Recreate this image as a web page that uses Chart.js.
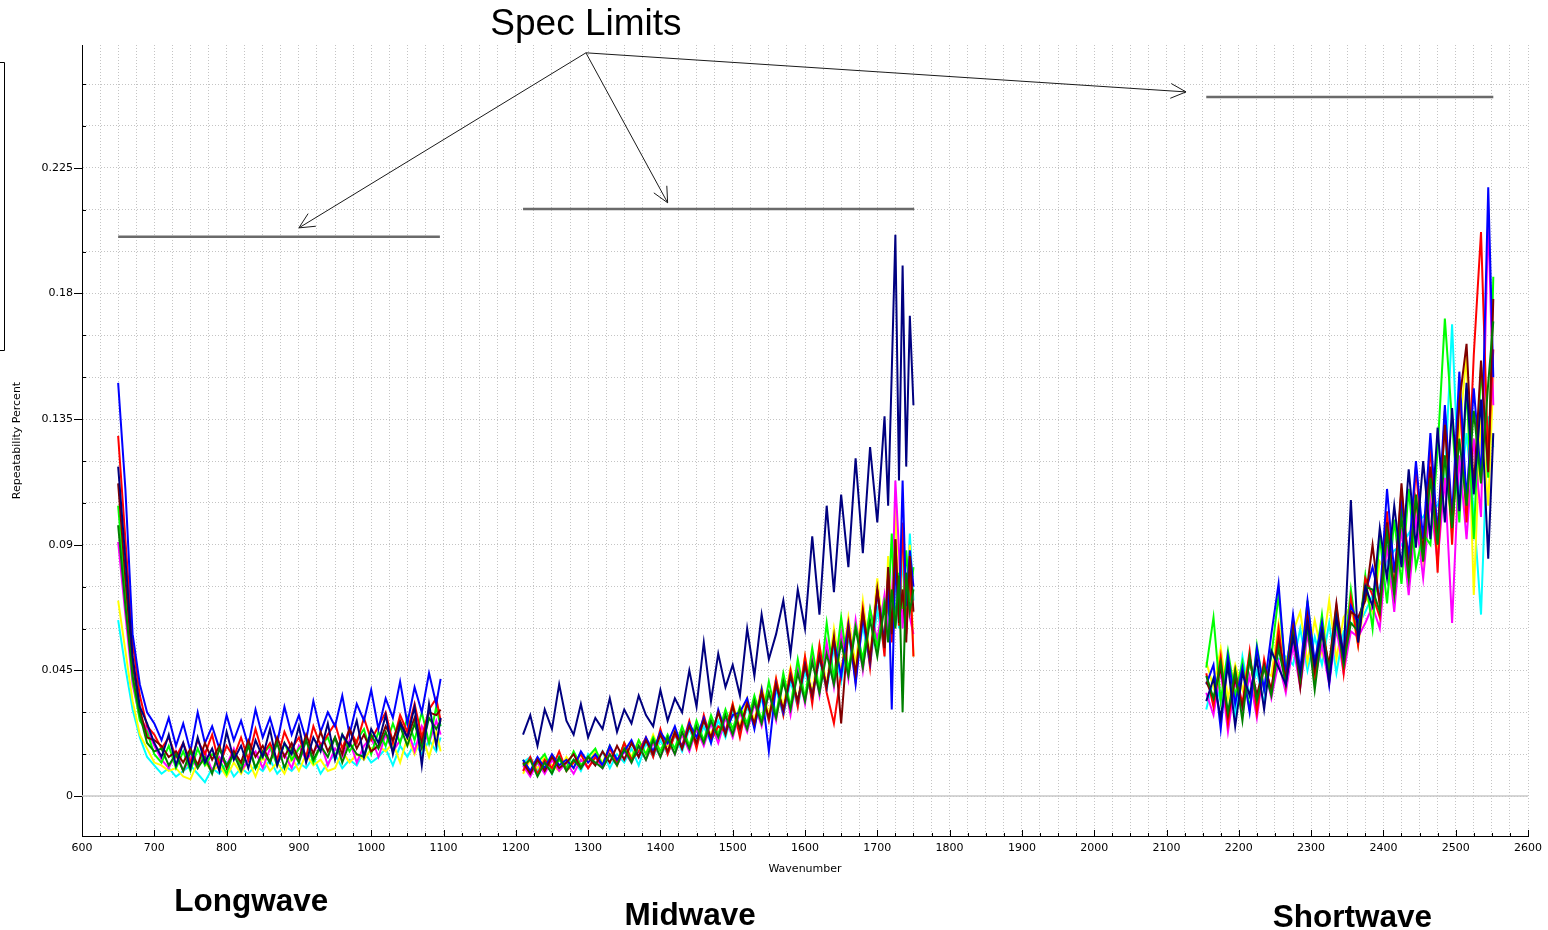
<!DOCTYPE html>
<html>
<head>
<meta charset="utf-8">
<script src="https://cdn.jsdelivr.net/npm/chart.js@4.4.1/dist/chart.umd.min.js"></script>
<style>
  body { margin: 0; background: #fff; }
  canvas { display: block; }
</style>
</head>
<body>
<canvas id="myChart" width="1548" height="930"></canvas>
<script>
// wavenumber grids of the three bands
const lwX = [650, 660, 670, 680, 690, 700, 710, 720, 730, 740, 750, 760, 770, 780, 790, 800, 810, 820, 830, 840, 850, 860, 870, 880, 890, 900, 910, 920, 930, 940, 950, 960, 970, 980, 990, 1000, 1010, 1020, 1030, 1040, 1050, 1060, 1070, 1080, 1090, 1096];
const mwX = [1210, 1220, 1230, 1240, 1250, 1260, 1270, 1280, 1290, 1300, 1310, 1320, 1330, 1340, 1350, 1360, 1370, 1380, 1390, 1400, 1410, 1420, 1430, 1440, 1450, 1460, 1470, 1480, 1490, 1500, 1510, 1520, 1530, 1540, 1550, 1560, 1570, 1580, 1590, 1600, 1610, 1620, 1630, 1640, 1650, 1660, 1670, 1680, 1690, 1700, 1710, 1715, 1720, 1725, 1730, 1735, 1740, 1745, 1750];
const swX = [2155, 2165, 2175, 2185, 2195, 2205, 2215, 2225, 2235, 2245, 2255, 2265, 2275, 2285, 2295, 2305, 2315, 2325, 2335, 2345, 2355, 2365, 2375, 2385, 2395, 2405, 2415, 2425, 2435, 2445, 2455, 2465, 2475, 2485, 2495, 2505, 2515, 2525, 2535, 2545, 2552];

// longwave
const lwNavy = [.118,.085,.050,.032,.026,.019,.014,.022,.011,.019,.010,.021,.012,.017,.009,.023,.013,.018,.010,.020,.014,.024,.011,.019,.015,.025,.012,.021,.016,.026,.013,.022,.018,.027,.014,.024,.019,.029,.015,.026,.021,.032,.011,.033,.018,.028];
const lwDarkGreen = [.097,.068,.043,.029,.019,.016,.017,.011,.015,.009,.016,.010,.014,.008,.017,.011,.015,.009,.018,.010,.016,.012,.019,.010,.017,.012,.020,.013,.018,.014,.021,.012,.019,.015,.014,.022,.017,.023,.016,.025,.018,.026,.017,.028,.024,.027];
const lwDarkRed = [.112,.078,.047,.031,.021,.020,.018,.014,.016,.012,.017,.011,.019,.013,.018,.010,.016,.012,.020,.014,.018,.012,.021,.014,.019,.013,.022,.015,.023,.016,.021,.015,.024,.017,.022,.016,.018,.025,.020,.027,.021,.028,.019,.030,.029,.031];
const lwBlue = [.148,.110,.058,.040,.030,.026,.020,.028,.018,.026,.016,.030,.019,.025,.017,.029,.020,.027,.018,.031,.021,.028,.019,.032,.022,.029,.020,.034,.023,.030,.025,.036,.022,.033,.027,.038,.024,.035,.028,.041,.026,.039,.030,.044,.033,.042];
const lwRed = [.129,.092,.055,.036,.025,.022,.017,.021,.014,.019,.012,.020,.015,.022,.011,.018,.014,.021,.013,.024,.015,.019,.013,.023,.017,.021,.014,.025,.018,.022,.026,.017,.024,.019,.028,.020,.025,.030,.019,.029,.023,.033,.021,.031,.035,.027];
const lwGreen = [.104,.072,.042,.027,.023,.015,.012,.018,.010,.016,.009,.017,.011,.015,.013,.008,.016,.011,.019,.010,.015,.018,.011,.019,.013,.017,.020,.012,.018,.021,.014,.022,.016,.020,.024,.015,.023,.018,.026,.019,.028,.020,.030,.019,.032,.025];
const lwMagenta = [.091,.065,.040,.028,.024,.018,.013,.010,.016,.009,.014,.010,.016,.009,.014,.011,.017,.009,.013,.016,.010,.017,.012,.015,.010,.018,.013,.016,.019,.011,.017,.014,.020,.012,.018,.021,.014,.022,.016,.020,.024,.016,.025,.019,.027,.022];
const lwYellow = [.070,.052,.034,.022,.017,.012,.011,.009,.010,.007,.006,.012,.012,.009,.011,.007,.012,.008,.013,.007,.014,.009,.012,.008,.014,.009,.015,.011,.013,.009,.010,.016,.012,.015,.013,.017,.018,.016,.019,.012,.021,.015,.022,.014,.023,.016];
const lwCyan = [.063,.046,.031,.021,.014,.011,.008,.010,.007,.009,.011,.008,.005,.010,.008,.012,.007,.010,.008,.011,.009,.013,.008,.011,.009,.012,.010,.014,.008,.012,.015,.010,.013,.011,.016,.012,.014,.017,.011,.018,.014,.019,.015,.020,.016,.021];

// midwave
const mwNavy = [.022,.029,.018,.031,.024,.040,.027,.022,.033,.021,.028,.024,.035,.023,.031,.026,.036,.029,.025,.038,.027,.035,.030,.045,.032,.055,.034,.051,.039,.047,.036,.060,.043,.065,.049,.058,.070,.051,.074,.060,.093,.065,.104,.073,.108,.082,.121,.087,.125,.098,.136,.104,.152,.201,.113,.190,.118,.172,.140];
const mwDarkGreen = [.011,.013,.007,.012,.008,.014,.009,.013,.010,.014,.012,.010,.015,.011,.017,.012,.018,.013,.020,.014,.021,.015,.023,.017,.025,.019,.027,.021,.029,.022,.031,.024,.034,.026,.037,.028,.041,.031,.044,.034,.048,.037,.051,.040,.055,.043,.060,.046,.063,.050,.068,.055,.074,.060,.079,.030,.080,.066,.074];
const mwDarkRed = [.012,.008,.013,.009,.014,.010,.012,.015,.010,.014,.011,.016,.012,.018,.013,.019,.014,.020,.015,.022,.016,.023,.017,.025,.019,.027,.021,.030,.022,.032,.024,.033,.026,.037,.028,.040,.031,.043,.034,.047,.036,.050,.039,.057,.026,.060,.044,.066,.049,.074,.053,.082,.058,.092,.062,.074,.055,.086,.066];
const mwBlue = [.013,.009,.014,.010,.015,.011,.013,.010,.016,.012,.015,.011,.018,.013,.016,.020,.014,.021,.016,.023,.019,.025,.017,.026,.021,.028,.019,.031,.023,.029,.030,.035,.024,.038,.016,.040,.030,.043,.034,.047,.036,.050,.039,.056,.043,.061,.040,.064,.048,.073,.055,.079,.031,.084,.064,.113,.068,.088,.075];
const mwRed = [.009,.014,.008,.013,.010,.016,.009,.012,.015,.010,.014,.011,.017,.012,.019,.013,.016,.021,.014,.024,.015,.022,.018,.027,.017,.029,.020,.025,.023,.033,.021,.034,.025,.038,.027,.042,.029,.045,.032,.050,.033,.054,.037,.026,.044,.062,.041,.067,.046,.074,.050,.080,.055,.092,.061,.098,.058,.083,.050];
const mwGreen = [.013,.009,.012,.015,.009,.013,.010,.016,.011,.014,.017,.011,.018,.012,.019,.013,.020,.015,.021,.016,.022,.017,.025,.018,.027,.020,.029,.022,.031,.024,.032,.026,.036,.027,.041,.029,.044,.032,.049,.035,.053,.038,.062,.042,.064,.045,.061,.049,.067,.053,.070,.066,.094,.061,.080,.067,.088,.070,.082];
const mwMagenta = [.011,.007,.012,.008,.013,.009,.012,.008,.013,.010,.014,.010,.015,.011,.016,.012,.018,.013,.019,.014,.020,.015,.022,.016,.024,.018,.026,.019,.028,.021,.030,.023,.033,.025,.037,.027,.043,.029,.046,.033,.051,.036,.055,.039,.059,.042,.063,.045,.067,.056,.072,.058,.066,.113,.088,.060,.080,.064,.058];
const mwYellow = [.008,.013,.010,.014,.011,.009,.014,.010,.015,.012,.016,.012,.018,.011,.019,.014,.020,.015,.022,.016,.018,.024,.017,.026,.020,.027,.022,.030,.023,.033,.025,.035,.027,.039,.029,.042,.032,.046,.034,.050,.037,.054,.040,.060,.044,.064,.047,.070,.050,.078,.054,.086,.062,.106,.066,.092,.072,.090,.050];
const mwCyan = [.012,.014,.009,.013,.008,.014,.010,.013,.009,.015,.011,.016,.010,.015,.012,.017,.011,.019,.014,.020,.015,.022,.016,.024,.018,.025,.019,.027,.021,.030,.023,.032,.025,.035,.027,.038,.029,.041,.032,.045,.035,.049,.038,.053,.041,.057,.044,.061,.047,.067,.052,.072,.056,.080,.060,.086,.064,.094,.070];

// shortwave
const swNavy = [.034,.042,.028,.047,.025,.044,.036,.049,.031,.052,.046,.040,.057,.044,.062,.047,.059,.041,.064,.050,.106,.055,.075,.068,.096,.078,.104,.082,.117,.089,.120,.092,.132,.098,.139,.102,.148,.108,.142,.085,.130];
const swDarkGreen = [.043,.035,.048,.030,.045,.027,.050,.034,.046,.036,.053,.040,.058,.042,.061,.038,.059,.045,.064,.047,.062,.059,.075,.074,.066,.094,.072,.100,.078,.108,.084,.114,.090,.122,.096,.128,.104,.138,.112,.148,.170];
const swDarkRed = [.041,.035,.046,.029,.042,.032,.049,.036,.047,.038,.056,.042,.060,.039,.064,.045,.059,.047,.069,.048,.066,.064,.070,.090,.068,.098,.074,.112,.080,.106,.088,.118,.092,.133,.096,.141,.162,.110,.156,.116,.178];
const swBlue = [.040,.047,.024,.050,.033,.046,.030,.053,.038,.058,.076,.043,.065,.045,.070,.048,.062,.040,.066,.051,.068,.062,.073,.082,.070,.110,.080,.104,.086,.120,.092,.130,.094,.140,.100,.152,.106,.146,.114,.218,.150];
const swRed = [.044,.032,.050,.026,.045,.033,.052,.030,.049,.037,.060,.040,.063,.043,.067,.041,.061,.046,.068,.044,.071,.054,.078,.072,.064,.102,.072,.110,.078,.118,.084,.126,.080,.138,.090,.146,.098,.158,.202,.120,.160];
const swGreen = [.046,.064,.034,.052,.036,.048,.031,.054,.038,.050,.072,.044,.063,.040,.070,.046,.065,.043,.062,.049,.074,.055,.079,.060,.093,.069,.099,.076,.110,.082,.094,.090,.124,.171,.134,.098,.146,.092,.154,.114,.186];
const swMagenta = [.037,.029,.045,.023,.041,.031,.043,.028,.047,.035,.048,.037,.054,.039,.058,.042,.054,.040,.060,.044,.059,.057,.062,.068,.060,.090,.066,.096,.072,.100,.078,.106,.084,.114,.062,.122,.092,.128,.100,.208,.140];
const swYellow = [.048,.039,.053,.035,.047,.038,.050,.033,.045,.043,.062,.047,.059,.066,.048,.063,.051,.070,.049,.064,.068,.054,.072,.066,.084,.080,.071,.099,.076,.104,.084,.110,.088,.122,.094,.130,.158,.072,.138,.104,.150];
const swCyan = [.031,.042,.034,.047,.029,.050,.036,.045,.033,.052,.049,.050,.047,.060,.045,.057,.047,.062,.044,.059,.062,.061,.066,.072,.075,.084,.088,.090,.094,.098,.100,.104,.104,.114,.169,.106,.130,.102,.065,.136,.125];

const seriesColors = ["#000080", "#008000", "#800000", "#0000ff", "#ff0000", "#00ff00", "#ff00ff", "#ffff00", "#00ffff"];
const seriesBands = [
  [lwNavy, mwNavy, swNavy],
  [lwDarkGreen, mwDarkGreen, swDarkGreen],
  [lwDarkRed, mwDarkRed, swDarkRed],
  [lwBlue, mwBlue, swBlue],
  [lwRed, mwRed, swRed],
  [lwGreen, mwGreen, swGreen],
  [lwMagenta, mwMagenta, swMagenta],
  [lwYellow, mwYellow, swYellow],
  [lwCyan, mwCyan, swCyan],
];

// spec limit per band
const specY = [0.2003, 0.2103, 0.2504];
const specStart = [650, 1210, 2155];
const specEnd = [1095, 1751, 2552];

const yLabels = [0, 0.045, 0.09, 0.135, 0.18, 0.225];
const bandNames = ["Longwave", "Midwave", "Shortwave"];
const bandNameX = [834, 1441, 2357];
const bandNameY = [911, 925, 927];

const arrowFrom = [1297, 0.2662];
const arrowToX = [900, 1410, 2127];
const arrowToY = [0.2035, 0.2125, 0.2522];

function joinBands(lw, mw, sw) {
  const pts = lwX.map((x, i) => ({ x: x, y: lw[i] }));
  pts.push({ x: 1150, y: null });
  mwX.forEach((x, i) => pts.push({ x: x, y: mw[i] }));
  pts.push({ x: 1950, y: null });
  swX.forEach((x, i) => pts.push({ x: x, y: sw[i] }));
  return pts;
}

const datasets = seriesBands.map((b, i) => ({
  data: joinBands(b[0], b[1], b[2]),
  borderColor: seriesColors[i],
  borderWidth: 2,
}));
specY.forEach((v, i) => {
  datasets.push({
    data: [{ x: specStart[i], y: v }, { x: specEnd[i], y: v }],
    borderColor: "#6a6a6a",
    borderWidth: 2.5,
  });
});
datasets.push({
  data: [{ x: 600, y: 0 }, { x: 2600, y: 0 }],
  borderColor: "#c8c8c8",
  borderWidth: 1.5,
});

const annotate = {
  id: "annotate",
  afterDraw(chart) {
    const { ctx, chartArea, scales: { x, y } } = chart;
    ctx.save();
    ctx.strokeStyle = "#000";
    ctx.lineWidth = 1;

    // tick marks: x inward, long at every 100
    ctx.beginPath();
    x.ticks.forEach((t) => {
      const px = Math.round(x.getPixelForValue(t.value)) + 0.5;
      const len = t.value % 100 === 0 ? 6 : 3;
      ctx.moveTo(px, chartArea.bottom);
      ctx.lineTo(px, chartArea.bottom - len);
    });
    // y: labelled ticks outward, others inward
    y.ticks.forEach((t) => {
      const py = Math.round(y.getPixelForValue(t.value)) + 0.5;
      if (yLabels.includes(+t.value.toFixed(3))) {
        ctx.moveTo(chartArea.left, py);
        ctx.lineTo(chartArea.left - 8, py);
      } else {
        ctx.moveTo(chartArea.left, py);
        ctx.lineTo(chartArea.left + 4, py);
      }
    });
    ctx.stroke();

    // legend frame cut off at the left edge
    ctx.beginPath();
    ctx.moveTo(0, 62.5);
    ctx.lineTo(4.5, 62.5);
    ctx.lineTo(4.5, 350.5);
    ctx.lineTo(0, 350.5);
    ctx.stroke();

    // arrows to the spec limits
    const ox = x.getPixelForValue(arrowFrom[0]);
    const oy = y.getPixelForValue(arrowFrom[1]);
    ctx.strokeStyle = "#1a1a1a";
    arrowToX.forEach((tx, i) => {
      const px = x.getPixelForValue(tx);
      const py = y.getPixelForValue(arrowToY[i]);
      const a = Math.atan2(py - oy, px - ox);
      ctx.beginPath();
      ctx.moveTo(ox, oy);
      ctx.lineTo(px, py);
      ctx.moveTo(px - 17 * Math.cos(a - 0.45), py - 17 * Math.sin(a - 0.45));
      ctx.lineTo(px, py);
      ctx.lineTo(px - 17 * Math.cos(a + 0.45), py - 17 * Math.sin(a + 0.45));
      ctx.stroke();
    });

    ctx.fillStyle = "#000";
    ctx.textAlign = "center";
    ctx.textBaseline = "alphabetic";
    ctx.font = '37px "Liberation Sans", Arial, sans-serif';
    ctx.fillText("Spec Limits", ox, 35);
    ctx.font = 'bold 31.5px "Liberation Sans", Arial, sans-serif';
    bandNames.forEach((n, i) => {
      ctx.fillText(n, x.getPixelForValue(bandNameX[i]), bandNameY[i]);
    });
    ctx.restore();
  },
};

const tickFont = { family: '"DejaVu Sans", Verdana, sans-serif', size: 11 };

const ctx = document.getElementById("myChart").getContext("2d");
const chart = new Chart(ctx, {
  type: "line",
  data: { datasets: datasets },
  options: {
    responsive: false,
    animation: false,
    events: [],
    layout: { padding: { top: 45, right: 15, left: 0, bottom: 0 } },
    elements: { point: { radius: 0 }, line: { tension: 0 } },
    spanGaps: false,
    plugins: { legend: { display: false }, tooltip: { enabled: false } },
    scales: {
      x: {
        type: "linear",
        min: 600,
        max: 2600,
        afterFit: (scale) => { scale.height = 94; },
        ticks: {
          stepSize: 25,
          autoSkip: false,
          maxRotation: 0,
          padding: 6,
          color: "#000",
          font: tickFont,
          callback: (v) => (v % 100 === 0 ? String(v) : ""),
        },
        grid: { color: "#c4c4c4", drawTicks: false },
        border: { color: "#000", width: 1, dash: [1, 2] },
        title: {
          display: true,
          text: "Wavenumber",
          color: "#000",
          font: tickFont,
          padding: { top: 0, bottom: 54 },
        },
      },
      y: {
        type: "linear",
        min: -0.0143,
        max: 0.269,
        afterFit: (scale) => { scale.width = 82; },
        afterBuildTicks: (scale) => {
          scale.ticks = scale.ticks.filter((t) => Math.abs(t.value / 0.015 - Math.round(t.value / 0.015)) < 1e-6);
        },
        ticks: {
          stepSize: 0.015,
          autoSkip: false,
          padding: 9,
          color: "#000",
          font: tickFont,
          callback: (v) => (yLabels.includes(+v.toFixed(3)) ? String(+v.toFixed(3)) : ""),
        },
        grid: { color: "#c4c4c4", drawTicks: false },
        border: { color: "#000", width: 1, dash: [1, 2] },
        title: {
          display: true,
          text: "Repeatability Percent",
          color: "#000",
          font: tickFont,
          padding: { top: 11, bottom: 0 },
        },
      },
    },
  },
  plugins: [annotate],
});
</script>
</body>
</html>
